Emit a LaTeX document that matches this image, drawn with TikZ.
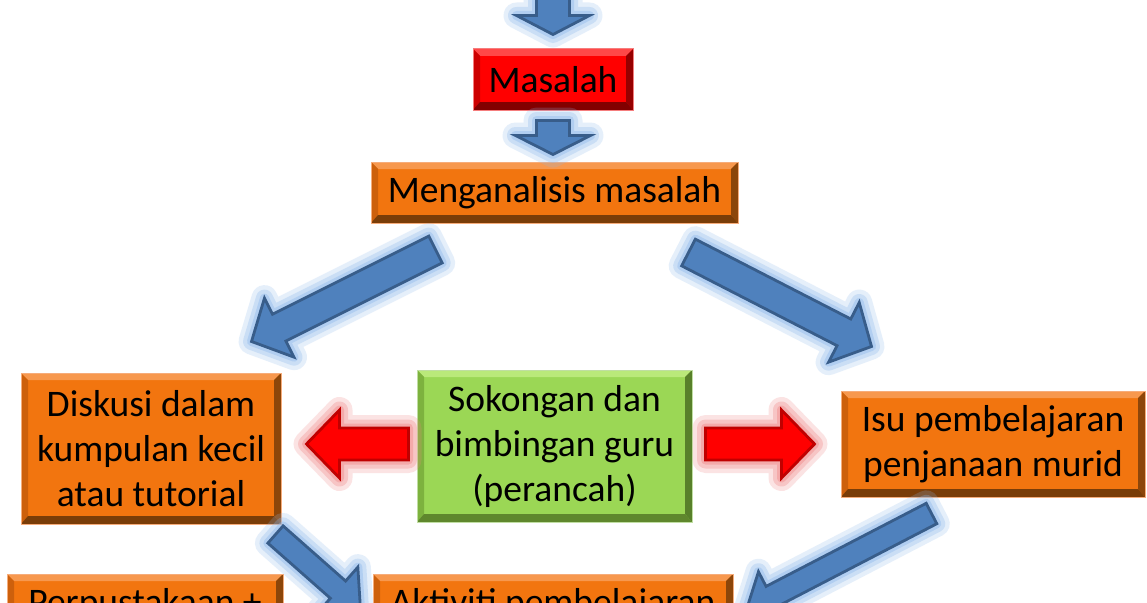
\documentclass[tikz,border=0pt]{standalone}
\usepackage{fontspec}
\setmainfont{Carlito}
\usetikzlibrary{calc}

\definecolor{orgmain}{RGB}{242,117,15}
\definecolor{orgtop}{RGB}{247,152,78}
\definecolor{orgleft}{RGB}{205,96,12}
\definecolor{orgright}{RGB}{140,70,10}
\definecolor{orgbot}{RGB}{122,61,8}
\definecolor{orgedge}{RGB}{246,172,122}
\definecolor{redmain}{RGB}{255,0,0}
\definecolor{redtop}{RGB}{255,72,72}
\definecolor{redleft}{RGB}{205,0,0}
\definecolor{redright}{RGB}{150,0,0}
\definecolor{redbot}{RGB}{130,0,0}
\definecolor{rededge}{RGB}{245,125,125}
\definecolor{grnmain}{RGB}{155,215,85}
\definecolor{grntop}{RGB}{186,233,122}
\definecolor{grnleft}{RGB}{125,178,62}
\definecolor{grnright}{RGB}{88,128,42}
\definecolor{grnbot}{RGB}{95,135,45}
\definecolor{grnedge}{RGB}{192,222,162}
\definecolor{blufill}{RGB}{79,129,189}
\definecolor{bluline}{RGB}{56,93,138}
\definecolor{bluglow}{RGB}{140,184,236}
\definecolor{redfill}{RGB}{255,0,0}
\definecolor{redline}{RGB}{192,0,0}
\definecolor{redglow}{RGB}{240,130,130}

\tikzset{
	box/.style={draw=#1edge, line width=1pt, fill=#1main, inner sep=0pt, align=center,
		font=\fontsize{37.5}{45}\selectfont,
		path picture={
			\coordinate (nw) at (path picture bounding box.north west);
			\coordinate (ne) at (path picture bounding box.north east);
			\coordinate (sw) at (path picture bounding box.south west);
			\coordinate (se) at (path picture bounding box.south east);
			\coordinate (nwi) at ([xshift=7pt,yshift=-7pt]nw);
			\coordinate (nei) at ([xshift=-7pt,yshift=-7pt]ne);
			\coordinate (swi) at ([xshift=7pt,yshift=8pt]sw);
			\coordinate (sei) at ([xshift=-7pt,yshift=8pt]se);
			\fill[#1top]   (nw) -- (ne) -- (nei) -- (nwi) -- cycle;
			\fill[#1left]  (nw) -- (sw) -- (swi) -- (nwi) -- cycle;
			\fill[#1right] (ne) -- (se) -- (sei) -- (nei) -- cycle;
			\fill[#1bot]   (sw) -- (se) -- (sei) -- (swi) -- cycle;
		}},
	glow/.style={
		preaction={draw=#1, line width=26pt, opacity=0.22, line join=round},
		preaction={draw=#1, line width=17pt, opacity=0.3, line join=round},
		preaction={draw=#1, line width=9pt, opacity=0.4, line join=round}},
	blockarrow/.style n args={3}{to path={
		let \p1=(\tikztostart), \p2=(\tikztotarget),
			\n1={atan2(\y2-\y1,\x2-\x1)}, \n2={veclen(\x2-\x1,\y2-\y1)} in
		([shift={(\p1)},rotate=\n1]0pt,#1)
		-- ([shift={(\p1)},rotate=\n1]\n2-#3,#1)
		-- ([shift={(\p1)},rotate=\n1]\n2-#3,#2)
		-- ([shift={(\p1)},rotate=\n1]\n2,0pt)
		-- ([shift={(\p1)},rotate=\n1]\n2-#3,-#2)
		-- ([shift={(\p1)},rotate=\n1]\n2-#3,-#1)
		-- ([shift={(\p1)},rotate=\n1]0pt,-#1) -- cycle}},
	bluearrow/.style={glow=bluglow, fill=blufill, draw=bluline, line width=2.8pt},
	redarrow/.style={glow=redglow, fill=redfill, draw=redline, line width=2.8pt}
}

\begin{document}
\begin{tikzpicture}[x=1pt, y=-1pt]
	\useasboundingbox (0,0) rectangle (1147,602);
	\fill[white] (0,0) rectangle (1147,602);
	\node[box=red, minimum width=160pt, minimum height=61pt] (mas) at (553,79.5) {Masalah};
	\node[box=org, minimum width=367pt, minimum height=61pt] (mng) at (554.5,192.5) {Menganalisis masalah};
	\node[box=org, minimum width=260pt, minimum height=151pt] (dis) at (151,448.5) {Diskusi dalam\\kumpulan kecil\\atau tutorial};
	\node[box=grn, minimum width=275pt, minimum height=152pt] (sok) at (554.5,446) {Sokongan dan\\bimbingan guru\\(perancah)};
	\node[box=org, minimum width=304pt, minimum height=106pt] (isu) at (993,444) {Isu pembelajaran\\penjanaan murid};
	\node[box=org, minimum width=276pt, minimum height=60pt] (per) at (145,604) {Perpustakaan +};
	\node[box=org, minimum width=360pt, minimum height=61pt] (akt) at (553,604.5) {Aktiviti pembelajaran};

	\draw[bluearrow, blockarrow={16.5pt}{36.5pt}{19pt}] ([yshift=64pt]mas.north) to ([yshift=14pt]mas.north);
	\draw[bluearrow, blockarrow={16.5pt}{37.5pt}{19pt}] ([yshift=-10pt]mas.south) to ([yshift=7pt,xshift=-1.5pt]mng.north);
	\draw[bluearrow, blockarrow={15pt}{33pt}{31pt}] ([xshift=65pt,yshift=-26pt]mng.south west) to ([xshift=-30pt,yshift=31pt]dis.north east);
	\draw[bluearrow, blockarrow={15pt}{33.5pt}{31pt}] ([xshift=-50pt,yshift=-29pt]mng.south east) to ([xshift=31pt,yshift=44pt]isu.north west);
	\draw[bluearrow, blockarrow={11.5pt}{30pt}{30pt}] ([xshift=-6pt,yshift=-10pt]dis.south east) to ([xshift=-12pt,yshift=-36pt]akt.north west);
	\draw[bluearrow, blockarrow={11.5pt}{28pt}{28pt}] ([xshift=91pt,yshift=-16pt]isu.south west) to ([xshift=13pt,yshift=-36pt]akt.north east);
	\draw[redarrow, blockarrow={16pt}{34pt}{33pt}] ([xshift=-8pt,yshift=2pt]sok.west) to ([xshift=25pt,yshift=4.5pt]dis.east);
	\draw[redarrow, blockarrow={16pt}{34pt}{33pt}] ([xshift=13pt,yshift=2pt]sok.east) to ([xshift=-26pt]isu.west);
\end{tikzpicture}
\end{document}
